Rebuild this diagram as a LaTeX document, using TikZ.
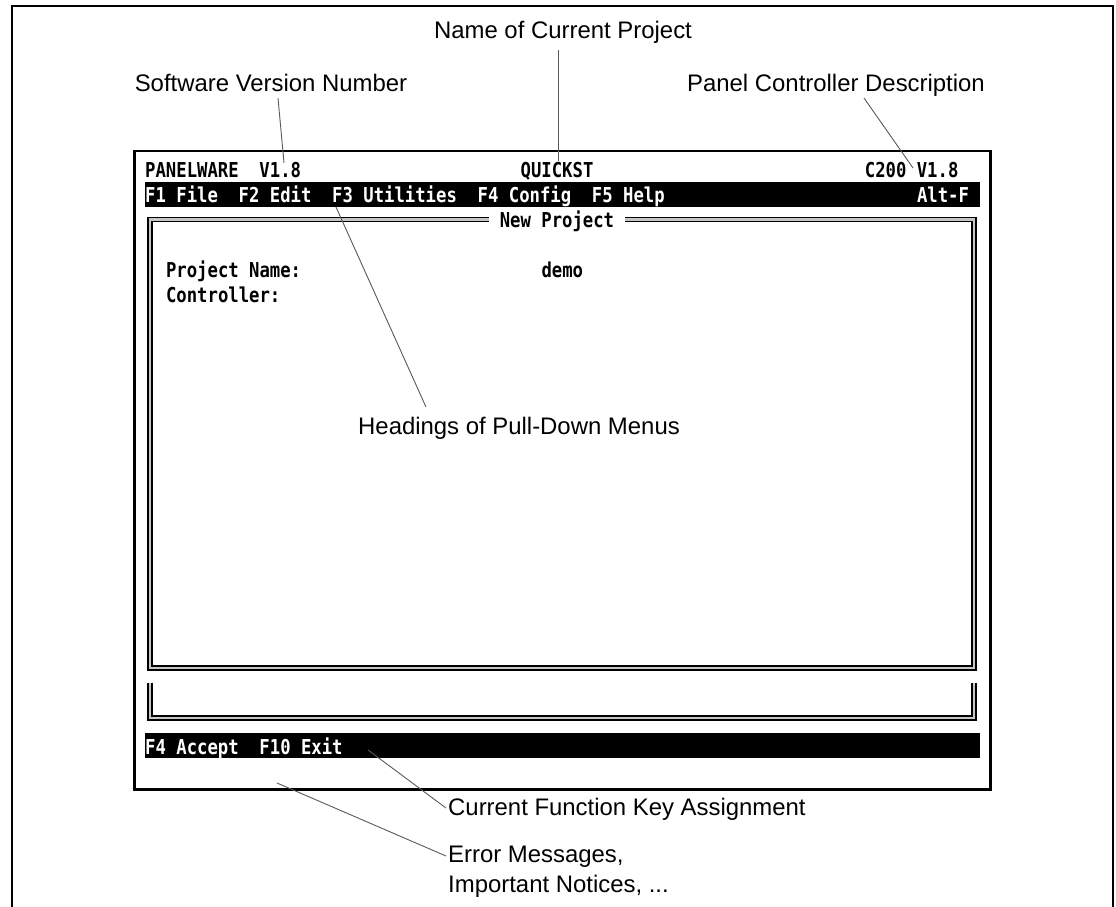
\documentclass[tikz,border=0pt]{standalone}
\usepackage{fontspec}
\setmainfont{Liberation Sans}
\newfontfamily\scrfont{DejaVu Sans Mono}[FakeStretch=0.841]
\tikzset{
  scr/.style={font=\scrfont\bfseries\fontsize{20.6}{20.6}\selectfont, inner sep=0pt, anchor=base west},
  scrw/.style={scr, text=white},
  lbl/.style={font=\fontsize{24}{24}\selectfont, inner sep=0pt},
  lead/.style={draw=black!65, line width=0.9pt},
  dbl/.style={draw=black, line width=1.6pt, double=gray!45, double distance=2.6pt},
  framel/.style={draw=black, line width=2.2pt},
}
\begin{document}
\begin{tikzpicture}[x=1bp,y=-1bp]
\useasboundingbox (0,0) rectangle (1116,907);
% outer frame (open at the bottom)
\draw[framel] (12,907) -- (12,6) -- (1113,6) -- (1113,907);
% screen frame
\draw[framel] (134.5,151) rectangle (990.5,789.5);
% bars
\fill[black] (145,182) rectangle (980,207);
\fill[black] (145,733) rectangle (980,758);
% double-line boxes
\draw[dbl] (489.2,219.6) -- (150.2,219.6) -- (150.2,668) -- (974,668) -- (974,219.6) -- (624.8,219.6);
\draw[dbl] (150.2,682.6) -- (150.2,718) -- (974,718) -- (974,682.6);
% screen texts
\node[scr]  (pw)   at ({145+10.43*0},{177}) {PANELWARE~~V1.8};
\node[scr]  (qk)   at ({145+10.43*36},{177}) {QUICKST};
\node[scr]  (cv)   at ({145+10.43*69},{177}) {C200 V1.8};
\node[scrw] (menu) at ({145+10.43*0},{202.1}) {F1 File~~F2 Edit~~F3 Utilities~~F4 Config~~F5 Help};
\node[scrw] (alt)  at ({145+10.43*74},{202.1}) {Alt-F};
\node[scr]  (np)   at ({145+10.43*34},{227.2}) {New Project};
\node[scr]  (pn)   at ({145+10.43*2},{277.4}) {Project Name:};
\node[scr]  (dm)   at ({145+10.43*38},{277.4}) {demo};
\node[scr]  (ct)   at ({145+10.43*2},{302.5}) {Controller:};
\node[scrw] (fk)   at ({145+10.43*0},{754.3}) {F4 Accept~~F10 Exit};
% callout labels
\node[lbl, anchor=base] (swv) at (271,91) {Software Version Number};
\node[lbl, anchor=base] (ncp) at (563,38.5) {Name of Current Project};
\node[lbl, anchor=base] (pcd) at (836,91) {Panel Controller Description};
\node[lbl, anchor=base west] (hd) at (358,434) {Headings of Pull-Down Menus};
\node[lbl, anchor=base west] (cfk) at (448,815) {Current Function Key Assignment};
\node[lbl, anchor=base west] (em1) at (448,862) {Error Messages,};
\node[lbl, anchor=base west] (em2) at (448,892) {Important Notices, ...};
% leader end points
\coordinate (swvA) at (278,98);   \coordinate (swvB) at (284,163);
\coordinate (ncpA) at (558,50);   \coordinate (ncpB) at (558,161);
\coordinate (pcdA) at (864,98);   \coordinate (pcdB) at (913,168);
\coordinate (hdA)  at (426,407);  \coordinate (hdB)  at (336,207);
\coordinate (cfkA) at (446,808);  \coordinate (cfkB) at (368,750);
\coordinate (emA)  at (446,856);  \coordinate (emB)  at (277,783);
\draw[lead] (swvA) -- (swvB);
\draw[lead] (ncpA) -- (ncpB);
\draw[lead] (pcdA) -- (pcdB);
\draw[lead] (hdA) -- (hdB);
\draw[lead] (cfkA) -- (cfkB);
\draw[lead] (emA) -- (emB);
\end{tikzpicture}
\end{document}
